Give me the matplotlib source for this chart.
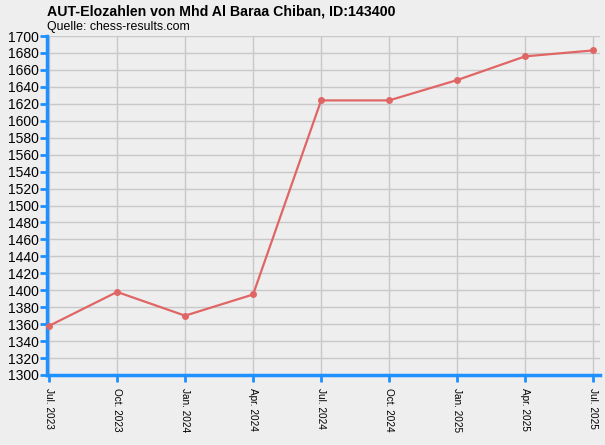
import matplotlib
matplotlib.use("Agg")
from matplotlib import pyplot as plt

plt.rcParams['font.family'] = ['Liberation Sans', 'DejaVu Sans']

months = ["Jul. 2023", "Oct. 2023", "Jan. 2024", "Apr. 2024", "Jul. 2024",
          "Oct. 2024", "Jan. 2025", "Apr. 2025", "Jul. 2025"]
elo = [1358, 1398, 1370, 1395, 1624, 1624, 1648, 1676, 1683]

bg = "#EEEEEE"
blue = "#1E90FF"
red = "#E06666"

fig = plt.figure(figsize=(6.05, 4.45), dpi=100, facecolor=bg)
ax = fig.add_axes([47 / 605, 70 / 445, 553 / 605, 339 / 445])
ax.set_facecolor(bg)

x = list(range(len(months)))
ax.plot(x, elo, color=red, linewidth=1.6, marker='o', markersize=4,
        zorder=3, clip_on=False)

ax.set_xlim(-0.03, len(months) - 1 + 0.1)
ax.set_ylim(1300, 1700)
ax.set_yticks(range(1300, 1701, 20))
ax.set_xticks(x)
ax.set_xticklabels(months, rotation=270, fontsize=7.2)
ax.tick_params(axis='y', labelsize=10, colors=blue, labelcolor='black',
               length=5, width=2, direction='out', pad=1)
ax.tick_params(axis='x', colors=blue, labelcolor='black',
               length=5, width=2, direction='out', pad=4)

ax.grid(True, color="#C8C8C8", linewidth=1)
ax.set_axisbelow(True)
for side in ['top', 'right']:
    ax.spines[side].set_visible(False)
for side in ['left', 'bottom']:
    ax.spines[side].set_color(blue)
    ax.spines[side].set_linewidth(2.5)

fig.text(47 / 605, 1 - 12 / 445, "AUT-Elozahlen von Mhd Al Baraa Chiban, ID:143400",
         fontsize=10.2, fontweight='bold', va='center', ha='left')
fig.text(47 / 605, 1 - 27 / 445, "Quelle: chess-results.com",
         fontsize=8.9, va='center', ha='left')

fig.savefig("out.png", dpi=100, facecolor=bg)
